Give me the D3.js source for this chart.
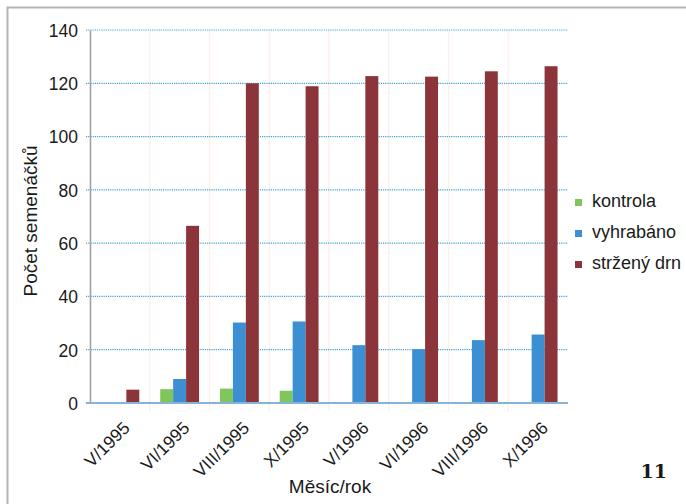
<!DOCTYPE html>
<html>
<head>
<meta charset="utf-8">
<script src="https://cdn.jsdelivr.net/npm/d3@7"></script>
<style>
  html, body { margin: 0; padding: 0; background: #fff; }
  svg { display: block; }
  text { font-family: "Liberation Sans", Arial, Helvetica, sans-serif; fill: #1a1a1a; }
  text.page-no { font-family: "DejaVu Serif", "Liberation Serif", serif; font-weight: bold; }
</style>
</head>
<body>
<svg id="chart" width="686" height="504"></svg>
<script>
// Months of observation
const months = ["V/1995", "VI/1995", "VIII/1995", "X/1995", "V/1996", "VI/1996", "VIII/1996", "X/1996"];
// Seedling counts per treatment
const series = ["kontrola", "vyhrabáno", "stržený drn"];
const kontrola   = [0, 5.2, 5.4, 4.6, 0, 0, 0, 0];
const vyhrabano  = [0.3, 9.0, 30.2, 30.6, 21.7, 20.2, 23.6, 25.7];
const strzenyDrn = [5.0, 66.5, 120, 118.9, 122.7, 122.5, 124.5, 126.4];
const yTicks = [0, 20, 40, 60, 80, 100, 120, 140];
const colors = ["#7fc65b", "#3b8fd2", "#8b3439"];

const rows = months.map((m, i) => ({
  month: m,
  values: [kontrola[i], vyhrabano[i], strzenyDrn[i]]
}));

const svg = d3.select("#chart");
const W = 686, H = 504;
const plot = { left: 90, right: 568, top: 30, bottom: 403 };

// outer frame (open to the right and bottom)
svg.append("path")
  .attr("d", `M7.5,${H} L7.5,7.5 L${W},7.5`)
  .attr("fill", "none")
  .attr("stroke", "#b3b3b3")
  .attr("stroke-width", 2);

const x = d3.scaleBand()
  .domain(months)
  .range([plot.left, plot.right])
  .paddingInner(0.35)
  .paddingOuter(0.175);

const xSub = d3.scaleBand()
  .domain(d3.range(series.length))
  .range([0, x.bandwidth()]);

const y = d3.scaleLinear()
  .domain([0, 140])
  .range([plot.bottom, plot.top]);

// faint category separators
const step = x.step();
svg.append("g")
  .selectAll("line")
  .data(d3.range(1, months.length))
  .join("line")
  .attr("x1", i => plot.left + i * step)
  .attr("x2", i => plot.left + i * step)
  .attr("y1", plot.top)
  .attr("y2", plot.bottom + 8)
  .attr("stroke", "#fdf1ee")
  .attr("stroke-width", 1.5);

// horizontal dotted gridlines
svg.append("g")
  .selectAll("line")
  .data(yTicks.filter(t => t > 0))
  .join("line")
  .attr("x1", plot.left - 4)
  .attr("x2", plot.right)
  .attr("y1", d => y(d))
  .attr("y2", d => y(d))
  .attr("stroke", "#3fa3dc")
  .attr("stroke-width", 1.2)
  .attr("stroke-dasharray", "1.2,1");

// y axis
const yAxis = d3.axisLeft(y).tickValues(yTicks).tickSize(0).tickPadding(12);
const gy = svg.append("g")
  .attr("transform", `translate(${plot.left},0)`)
  .call(yAxis);
gy.select(".domain")
  .attr("stroke", "#a0a0a0")
  .attr("stroke-width", 1.6);
gy.selectAll(".tick text")
  .attr("font-size", 17.5)
  .attr("dy", "0.36em")
  .attr("fill", "#1a1a1a");

// bars
const groups = svg.append("g")
  .selectAll("g")
  .data(rows)
  .join("g")
  .attr("transform", d => `translate(${x(d.month)},0)`);

groups.selectAll("rect")
  .data(d => d.values.map((v, k) => ({ v, k })))
  .join("rect")
  .attr("x", d => xSub(d.k))
  .attr("width", xSub.bandwidth())
  .attr("y", d => y(d.v))
  .attr("height", d => y(0) - y(d.v))
  .attr("fill", d => colors[d.k]);

// x axis
const xAxis = d3.axisBottom(x).tickSize(0).tickPadding(0);
const gx = svg.append("g")
  .attr("transform", `translate(0,${plot.bottom})`)
  .call(xAxis);
gx.select(".domain").remove();
svg.append("line")
  .attr("x1", plot.left - 4)
  .attr("x2", plot.right)
  .attr("y1", plot.bottom)
  .attr("y2", plot.bottom)
  .attr("stroke", "#86b4d6")
  .attr("stroke-width", 2);
gx.selectAll(".tick text")
  .attr("font-size", 17.5)
  .attr("fill", "#1a1a1a")
  .attr("text-anchor", "end")
  .attr("dy", 0)
  .attr("transform", "translate(11,26) rotate(-45)");

// axis titles
svg.append("text")
  .attr("transform", "translate(37,221) rotate(-90)")
  .attr("text-anchor", "middle")
  .attr("font-size", 19)
  .text("Počet semenáčků");

svg.append("text")
  .attr("x", 330)
  .attr("y", 493)
  .attr("text-anchor", "middle")
  .attr("font-size", 19)
  .text("Měsíc/rok");

// legend
const legend = svg.append("g")
  .selectAll("g")
  .data(series)
  .join("g")
  .attr("transform", (d, i) => `translate(575,${199 + i * 31})`);
legend.append("rect")
  .attr("width", 7)
  .attr("height", 7)
  .attr("fill", (d, i) => colors[i]);
legend.append("text")
  .attr("x", 17)
  .attr("y", 8)
  .attr("font-size", 18)
  .text(d => d);

// page number
svg.append("text")
  .attr("class", "page-no")
  .attr("x", 667)
  .attr("y", 478)
  .attr("text-anchor", "end")
  .attr("font-size", 19)
  .text("11");
</script>
</body>
</html>
